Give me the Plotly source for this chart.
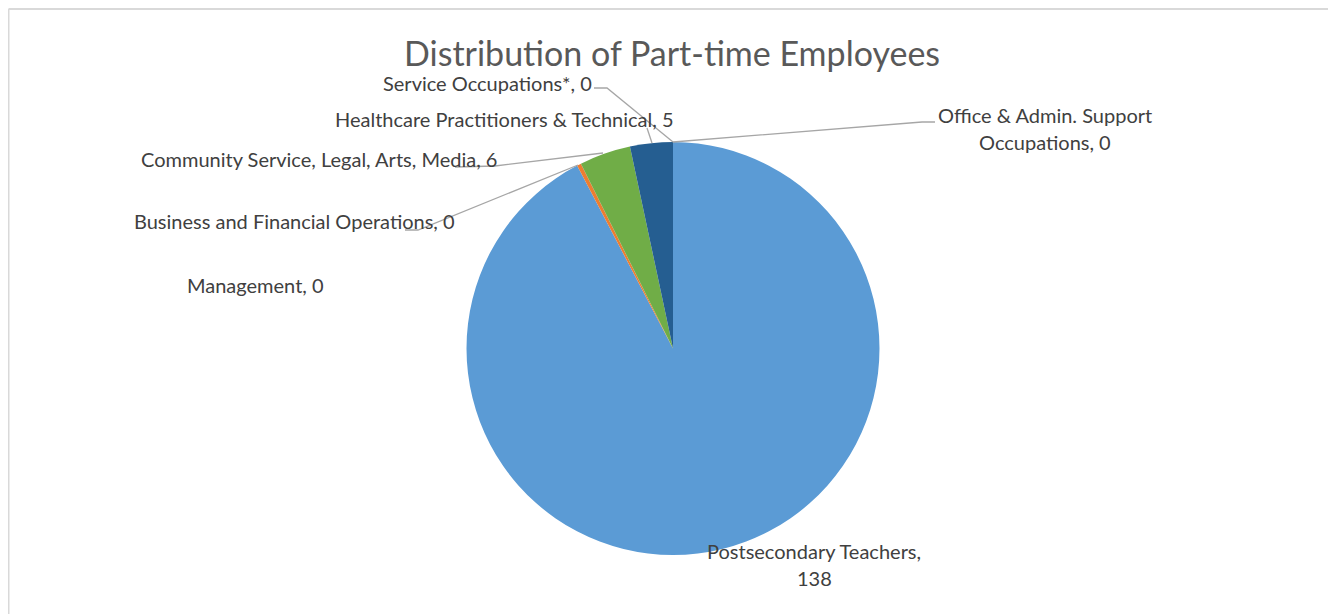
import plotly.graph_objects as go

# ---- data ----
categories = [
    "Postsecondary Teachers",
    "Management",
    "Business and Financial Operations",
    "Community Service, Legal, Arts, Media",
    "Healthcare Practitioners & Technical",
    "Service Occupations*",
    "Office & Admin. Support Occupations",
]
values = [138, 0, 0.49, 6, 5, 0, 0]
colors = ["#5B9BD5", "#ED7D31", "#ED7D31", "#70AD47", "#255E91", "#A5A5A5", "#FFC000"]
title_text = "Distribution of Part-time Employees"

W, H = 1336, 614
OFF = 8  # page body margin


def px(x):
    return (x - OFF) / W


def py(y):
    return 1 - (y - OFF) / H


cx, cy, r = 673, 348.5, 206.5

fig = go.Figure()
fig.add_trace(go.Pie(
    labels=categories,
    values=values,
    sort=False,
    direction="clockwise",
    rotation=0,
    marker=dict(colors=colors, line=dict(width=0)),
    textinfo="none",
    showlegend=False,
    domain=dict(x=[px(cx - r), px(cx + r)], y=[py(cy + r), py(cy - r)]),
))

labels = [f"{c}, {v:.0f}" for c, v in zip(categories, values)]

# label placement (layout): center x, center y per text line
placements = {
    0: [(814, 551), (814, 578)],
    1: [(255, 285)],
    2: [(294, 221)],
    3: [(319, 159)],
    4: [(504, 119)],
    5: [(487, 83)],
    6: [(1045, 115), (1045, 142)],
}
splits = {0: "Postsecondary Teachers,", 6: "Office & Admin. Support"}

label_font = dict(family="Lato, Open Sans, sans-serif", size=20, color="#404040")
annotations = []
for i, lab in enumerate(labels):
    if i in splits:
        first = splits[i]
        lines = [first, lab[len(first):].strip()]
    else:
        lines = [lab]
    for line, (x, y) in zip(lines, placements[i]):
        annotations.append(dict(
            text=line, x=px(x), y=py(y), xref="paper", yref="paper",
            xanchor="center", yanchor="middle", showarrow=False, font=label_font,
        ))

annotations.append(dict(
    text=title_text, x=px(672), y=py(52), xref="paper", yref="paper",
    xanchor="center", yanchor="middle", showarrow=False,
    font=dict(family="Lato, Open Sans, sans-serif", size=34, color="#595959"),
))

leader_paths = [
    [(594, 88), (607, 88), (673, 142)],          # Service
    [(647, 128), (652, 143)],                    # Healthcare
    [(455, 167), (495, 166), (603, 153)],        # Community
    [(405, 230), (418, 230), (578, 165)],        # Business
    [(673, 142), (922, 122), (935, 122)],        # Office
]
shapes = []
for pts in leader_paths:
    d = "M " + " L ".join(f"{px(x):.5f},{py(y):.5f}" for x, y in pts)
    shapes.append(dict(type="path", path=d, xref="paper", yref="paper",
                       line=dict(color="#A6A6A6", width=1.3)))

# chart border (top & left visible)
shapes.append(dict(type="line", xref="paper", yref="paper",
                   x0=px(8.5), x1=1.0, y0=py(9), y1=py(9),
                   line=dict(color="#D9D9D9", width=2)))
shapes.append(dict(type="line", xref="paper", yref="paper",
                   x0=px(8.5), x1=px(8.5), y0=py(9), y1=0,
                   line=dict(color="#D9D9D9", width=2)))

fig.update_layout(
    width=W, height=H,
    margin=dict(l=0, r=0, t=0, b=0),
    paper_bgcolor="white", plot_bgcolor="white",
    annotations=annotations, shapes=shapes,
)

fig.write_html("out.html")
